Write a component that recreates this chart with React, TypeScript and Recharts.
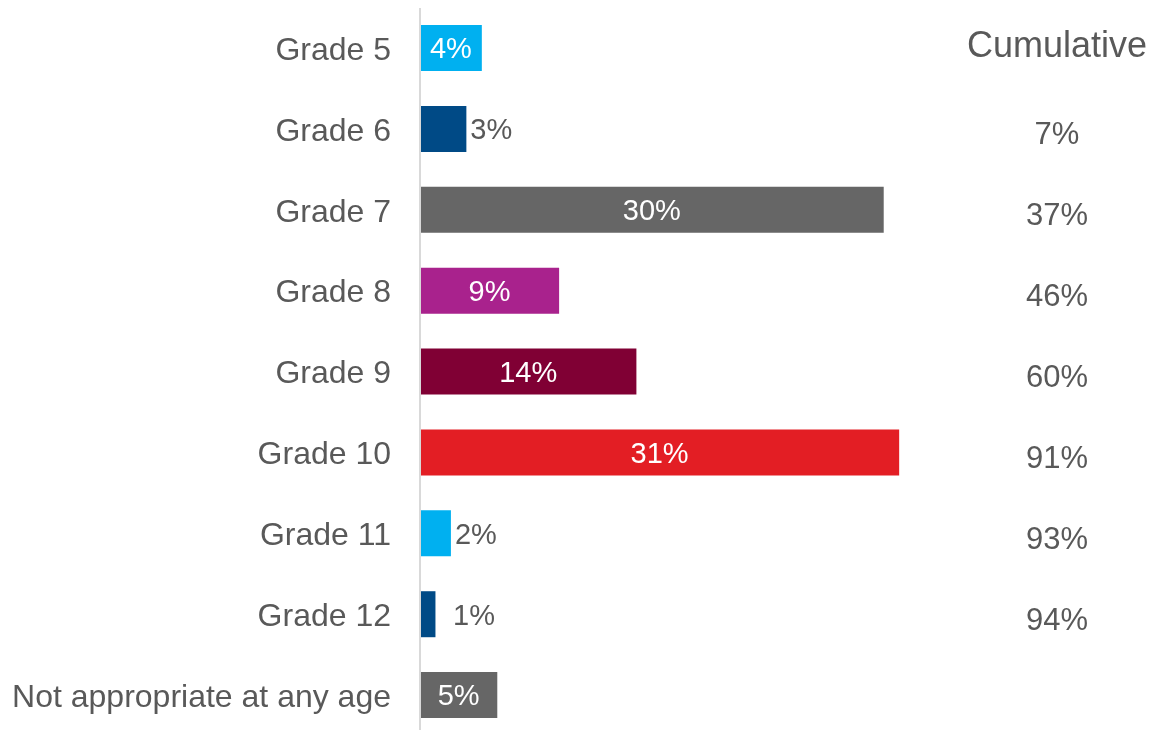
import { BarChart, Bar, XAxis, YAxis, Cell, LabelList } from "recharts";

// 各年级数据
const grades = [
  "Grade 5",
  "Grade 6",
  "Grade 7",
  "Grade 8",
  "Grade 9",
  "Grade 10",
  "Grade 11",
  "Grade 12",
  "Not appropriate at any age",
];
const shares = [4, 3, 30, 9, 14, 31, 2, 1, 5];
const cumulative = ["", "7%", "37%", "46%", "60%", "91%", "93%", "94%", ""];
const barColors = [
  "#00B0F0",
  "#004A86",
  "#666666",
  "#A9228D",
  "#800034",
  "#E31E24",
  "#00B0F0",
  "#004A86",
  "#666666",
];
// small bars get their label outside
const labelOutside = [false, true, false, false, false, false, true, true, false];

const TEXT = "#595959";
const FONT = "'Liberation Sans', Arial, sans-serif";

const data = grades.map((name, i) => ({
  name,
  value: shares[i],
  cum: cumulative[i],
}));

const BarLabel = (props: any) => {
  const { x, y, width, height, value, index } = props;
  const cy = y + height / 2;
  if (labelOutside[index]) {
    const lx = Math.max(x + width + 4, x + 33);
    return (
      <text x={lx} y={cy} dy="0.355em" fill={TEXT} fontSize={29} fontFamily={FONT} textAnchor="start">
        {`${value}%`}
      </text>
    );
  }
  return (
    <text x={x + width / 2} y={cy} dy="0.355em" fill="#fff" fontSize={29} fontFamily={FONT} textAnchor="middle">
      {`${value}%`}
    </text>
  );
};

// right-hand column: header on the first row, then cumulative values
const CumTick = (props: any) => {
  const { x, y, index } = props;
  const cx = x + 94;
  if (index === 0) {
    return (
      <text x={cx} y={y - 4} dy="0.355em" fill={TEXT} fontSize={36} fontFamily={FONT} textAnchor="middle">
        Cumulative
      </text>
    );
  }
  return (
    <text x={cx} y={y + 4} dy="0.355em" fill={TEXT} fontSize={31} fontFamily={FONT} textAnchor="middle">
      {cumulative[index]}
    </text>
  );
};

export default function App() {
  return (
    // fixed so the page never scrolls
    <div style={{ position: "fixed", top: 8, left: 8 }}>
      <BarChart
        width={1145}
        height={728}
        data={data}
        layout="vertical"
        margin={{ top: 0, right: 0, left: 0, bottom: 0 }}
        style={{ overflow: "visible" }}
      >
        <XAxis type="number" domain={[0, 35]} hide />
        <YAxis
          yAxisId="left"
          type="category"
          dataKey="name"
          width={412}
          tickSize={0}
          tickMargin={29}
          tickLine={false}
          axisLine={{ stroke: "#D9D9D9", strokeWidth: 2 }}
          tick={{ fill: TEXT, fontSize: 32, fontFamily: FONT }}
          interval={0}
        />
        <YAxis
          yAxisId="cum"
          orientation="right"
          type="category"
          dataKey="name"
          width={192}
          tickSize={0}
          tickLine={false}
          axisLine={false}
          tick={<CumTick />}
          interval={0}
        />
        <Bar dataKey="value" yAxisId="left" barSize={46} isAnimationActive={false}>
          {data.map((d, i) => (
            <Cell key={d.name} fill={barColors[i]} />
          ))}
          <LabelList dataKey="value" content={<BarLabel />} />
        </Bar>
      </BarChart>
    </div>
  );
}
